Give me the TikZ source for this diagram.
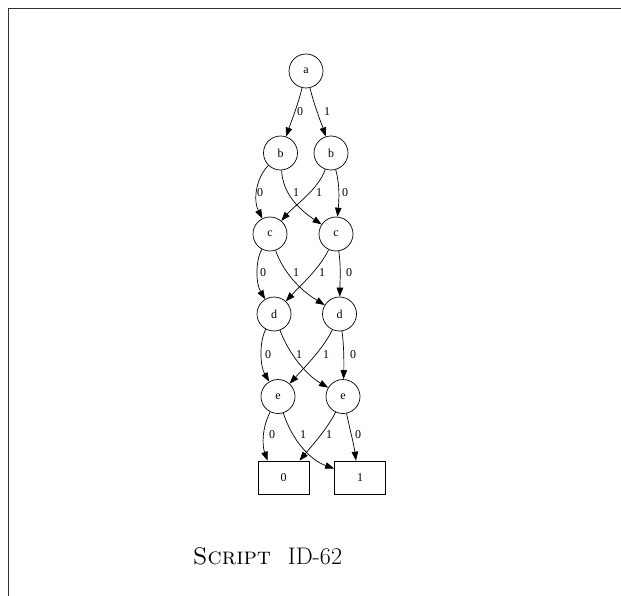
\documentclass[tikz,border=0pt]{standalone}
\usepackage{fontspec}
\newfontfamily\gvfont{Liberation Serif}
\usetikzlibrary{arrows.meta}

\tikzset{
  vtx/.style={draw, circle, line width=0.7pt, minimum size=34pt, inner sep=0pt,
              font=\gvfont\fontsize{12}{13}\selectfont},
  leaf/.style={draw, rectangle, line width=0.7pt, minimum width=51pt, minimum height=33pt,
               inner sep=0pt, font=\gvfont\fontsize{12}{13}\selectfont},
  edge/.style={line width=0.7pt, -{Triangle[length=9pt,width=6.5pt]}},
  elab/.style={inner sep=0pt, font=\gvfont\fontsize{12}{13}\selectfont},
  frame/.style={line width=1.1pt, black!80}
}

\begin{document}
\begin{tikzpicture}[x=1pt, y=-1pt]
  \useasboundingbox (0,0) rectangle (621,596);

  % outer frame (top and left sides)
  \draw[frame] (8.5,596) -- (8.5,8.5) -- (621,8.5);

  % decision nodes
  \node[vtx] (a)  at (306,71)    {a};
  \node[vtx] (bl) at (280.5,153) {b};
  \node[vtx] (br) at (331,153)   {b};
  \node[vtx] (cl) at (270,234)   {c};
  \node[vtx] (cr) at (336,234)   {c};
  \node[vtx] (dl) at (274,314)   {d};
  \node[vtx] (dr) at (339.5,314) {d};
  \node[vtx] (el) at (278,396.5) {e};
  \node[vtx] (er) at (343,396.5) {e};

  % terminal nodes
  \node[leaf] (t0) at (283.5,477.5) {0};
  \node[leaf] (t1) at (360,477.5)   {1};

  % a -> b
  \draw[edge] (a) .. controls (298,105) and (290,125) .. (bl);
  \draw[edge] (a) .. controls (314,105) and (322,125) .. (br);
  \node[elab] (la0) at (300,112) {0};
  \node[elab] (la1) at (327,112) {1};

  % b -> c
  \draw[edge] (bl) .. controls (256,178) and (253,200) .. (cl);
  \draw[edge] (bl) .. controls (283,195) and (300,210) .. (cr);
  \draw[edge] (br) .. controls (318,190) and (295,205) .. (cl);
  \draw[edge] (br) .. controls (340,185) and (339,200) .. (cr);
  \node[elab] (lb0) at (260,193) {0};
  \node[elab] (lb1) at (296,193) {1};
  \node[elab] (lb2) at (319,193) {1};
  \node[elab] (lb3) at (345,193) {0};

  % c -> d
  \draw[edge] (cl) .. controls (255,262) and (256,284) .. (dl);
  \draw[edge] (cl) .. controls (283,272) and (300,290) .. (dr);
  \draw[edge] (cr) .. controls (320,268) and (300,286) .. (dl);
  \draw[edge] (cr) .. controls (341,265) and (340,282) .. (dr);
  \node[elab] (lc0) at (263,273) {0};
  \node[elab] (lc1) at (296,273) {1};
  \node[elab] (lc2) at (322,273) {1};
  \node[elab] (lc3) at (349,273) {0};

  % d -> e
  \draw[edge] (dl) .. controls (259,342) and (260,366) .. (el);
  \draw[edge] (dl) .. controls (288,352) and (305,374) .. (er);
  \draw[edge] (dr) .. controls (324,348) and (302,370) .. (el);
  \draw[edge] (dr) .. controls (344,345) and (344,365) .. (er);
  \node[elab] (ld0) at (268,355) {0};
  \node[elab] (ld1) at (299,355) {1};
  \node[elab] (ld2) at (326,355) {1};
  \node[elab] (ld3) at (353,355) {0};

  % e -> terminals
  \draw[edge] (el) .. controls (262,428) and (262,445) .. ([xshift=-16pt]t0.north);
  \draw[edge] (el) .. controls (292,440) and (310,460) .. ([yshift=9pt]t1.west);
  \draw[edge] (er) .. controls (328,428) and (310,448) .. ([xshift=16pt]t0.north);
  \draw[edge] (er) .. controls (350,430) and (354,445) .. ([xshift=-4pt]t1.north);
  \node[elab] (le0) at (272,435) {0};
  \node[elab] (le1) at (303,435) {1};
  \node[elab] (le2) at (329,435) {1};
  \node[elab] (le3) at (358,435) {0};

  % caption
  \node[inner sep=0pt, font=\fontsize{24}{29}\selectfont] (cap) at (267.5,556)
    {\textsc{Script}\hspace{0.7em}ID-62};
\end{tikzpicture}
\end{document}
